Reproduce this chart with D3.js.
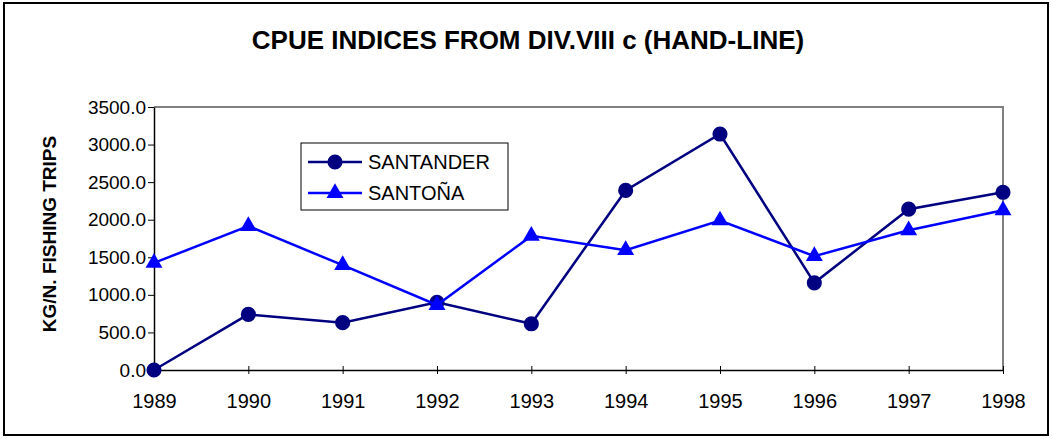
<!DOCTYPE html>
<html>
<head>
<meta charset="utf-8">
<script src="https://cdn.jsdelivr.net/npm/d3@7"></script>
<style>
  body { margin: 0; background: #fff; }
  svg { font-family: "Liberation Sans", Arial, sans-serif; display: block; }
</style>
</head>
<body>
<div id="chart"></div>
<script>
// data
const years = [1989, 1990, 1991, 1992, 1993, 1994, 1995, 1996, 1997, 1998];
const santander = [0, 740, 630, 900, 615, 2390, 3140, 1160, 2140, 2365];
const santona = [1425, 1915, 1395, 865, 1785, 1595, 1990, 1515, 1860, 2125];
const yTicks = [0, 500, 1000, 1500, 2000, 2500, 3000, 3500];

const width = 1052;
const height = 439;
const margin = {top: 107, right: 49, bottom: 69, left: 154};
const innerWidth = width - margin.left - margin.right;
const innerHeight = height - margin.top - margin.bottom;

const svg = d3.select("#chart")
  .append("svg")
    .attr("width", width)
    .attr("height", height);

// outer frame
svg.append("rect")
  .attr("x", 4).attr("y", 3)
  .attr("width", 1044).attr("height", 432)
  .attr("fill", "#fff")
  .attr("stroke", "#000")
  .attr("stroke-width", 2);

const inner = svg.append("g")
  .attr("transform", `translate(${margin.left}, ${margin.top})`);

const xScale = d3.scalePoint()
  .domain(years)
  .range([0, innerWidth]);

const yScale = d3.scaleLinear()
  .domain([0, 3500])
  .range([innerHeight, 0]);

// plot border top & right (gray)
inner.append("path")
  .attr("d", `M0,0H${innerWidth}V${innerHeight}`)
  .attr("fill", "none")
  .attr("stroke", "#808080")
  .attr("stroke-width", 2);

const xAxis = d3.axisBottom(xScale).tickSize(8).tickSizeOuter(0).tickPadding(16);
const yAxis = d3.axisLeft(yScale).tickValues(yTicks).tickSize(6).tickSizeOuter(0)
  .tickFormat(d3.format(".1f")).tickPadding(2);

const gx = inner.append("g")
  .attr("transform", `translate(0, ${innerHeight})`)
  .call(xAxis);
gx.selectAll(".tick line").attr("transform", "translate(0,-4)");

const gy = inner.append("g").call(yAxis);

[gx, gy].forEach(g => {
  g.attr("font-size", null).attr("font-family", null);
  g.select(".domain").attr("stroke", "#000").attr("stroke-width", 1.5);
  g.selectAll(".tick line").attr("stroke", "#000");
  g.selectAll("text")
    .attr("font-size", 20)
    .attr("fill", "#000");
});
gy.selectAll("text").attr("font-size", 19);

const line = d3.line()
  .x((d, i) => xScale(years[i]))
  .y(d => yScale(d));

const series = [
  {name: "SANTANDER", values: santander, colour: "#000080", shape: d3.symbolCircle, size: 180},
  {name: "SANTOÑA", values: santona, colour: "#0000ff", shape: d3.symbolTriangle, size: 125}
];

series.forEach(s => {
  inner.append("path")
    .datum(s.values)
    .attr("d", line)
    .attr("fill", "none")
    .attr("stroke", s.colour)
    .attr("stroke-width", 2.5);

  inner.selectAll(null)
    .data(s.values)
    .join("path")
      .attr("d", d3.symbol().type(s.shape).size(s.size))
      .attr("transform", (d, i) => `translate(${xScale(years[i])}, ${yScale(d)})`)
      .attr("fill", s.colour);
});

// legend
const legend = svg.append("g").attr("transform", "translate(301, 143)");
legend.append("rect")
  .attr("width", 207).attr("height", 67)
  .attr("fill", "#fff")
  .attr("stroke", "#000")
  .attr("stroke-width", 1);

series.forEach((s, i) => {
  const ly = 19 + i * 31;
  legend.append("line")
    .attr("x1", 7).attr("x2", 61)
    .attr("y1", ly).attr("y2", ly)
    .attr("stroke", s.colour)
    .attr("stroke-width", 2.5);
  legend.append("path")
    .attr("d", d3.symbol().type(s.shape).size(s.size))
    .attr("transform", `translate(34, ${ly})`)
    .attr("fill", s.colour);
  legend.append("text")
    .text(s.name)
    .attr("x", 67)
    .attr("y", ly + 7)
    .attr("font-size", 20)
    .attr("fill", "#000");
});

// title
svg.append("text")
  .text("CPUE INDICES FROM DIV.VIII c (HAND-LINE)")
  .attr("x", 528)
  .attr("y", 49)
  .attr("text-anchor", "middle")
  .attr("font-size", 26)
  .attr("font-weight", "bold");

// y-axis label
svg.append("text")
  .text("KG/N. FISHING TRIPS")
  .attr("transform", "translate(56, 234) rotate(-90)")
  .attr("text-anchor", "middle")
  .attr("font-size", 19)
  .attr("font-weight", "bold");
</script>
</body>
</html>
